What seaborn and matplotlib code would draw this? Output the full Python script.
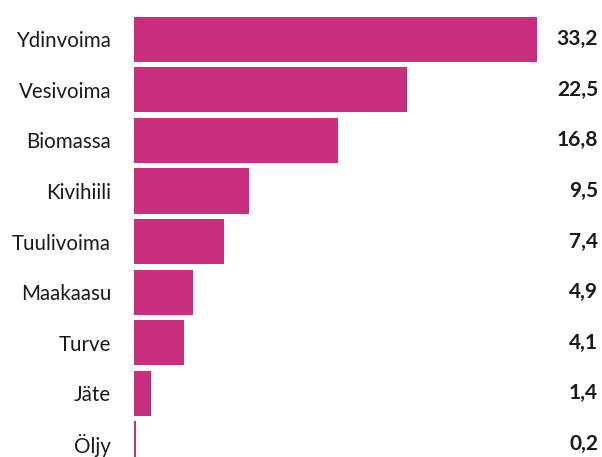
import matplotlib
matplotlib.use("Agg")
import matplotlib.pyplot as plt
import matplotlib.transforms as mtransforms
import seaborn as sns
import pandas as pd

categories = ["Ydinvoima", "Vesivoima", "Biomassa", "Kivihiili", "Tuulivoima",
              "Maakaasu", "Turve", "Jäte", "Öljy"]
values = [33.2, 22.5, 16.8, 9.5, 7.4, 4.9, 4.1, 1.4, 0.2]
value_labels = ["33,2", "22,5", "16,8", "9,5", "7,4", "4,9", "4,1", "1,4", "0,2"]

sns.set_theme(style="white")
plt.rcParams["font.family"] = ["Lato", "DejaVu Sans"]

W, H = 602, 457
fig = plt.figure(figsize=(W / 100, H / 100), dpi=100)
x0, x1 = 134, 537
ax = fig.add_axes([x0 / W, 0, (x1 - x0) / W, 1])

df = pd.DataFrame({"cat": categories, "val": values})
sns.barplot(data=df, x="val", y="cat", orient="h", color="#C8307F",
            saturation=1, width=0.89, edgecolor="none", ax=ax)

ax.set_xlim(0, 33.2)
pitch = 50.6
c0 = 39.2
ax.set_ylim((H - c0) / pitch, -c0 / pitch)
for s in ax.spines.values():
    s.set_visible(False)
ax.set_xticks([])
ax.set_xlabel("")
ax.set_ylabel("")
ax.tick_params(axis="y", length=0, pad=16.5, labelsize=14.8, labelcolor="#1a1a1a")

trans = mtransforms.blended_transform_factory(fig.transFigure, ax.transData)
for i, lab in enumerate(value_labels):
    ax.text(598 / W, i, lab, transform=trans, ha="right", va="center",
            fontsize=15, fontweight="bold", color="#1a1a1a")

fig.savefig("out.png", dpi=100)
